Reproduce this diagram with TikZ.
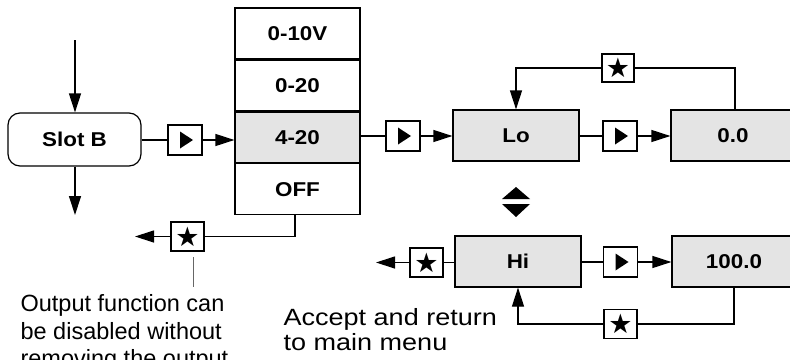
\documentclass[tikz,border=0pt]{standalone}
\usepackage{fontspec}
\setmainfont{Liberation Sans}
\newfontfamily\symfont{DejaVu Sans}
\usetikzlibrary{arrows.meta, positioning, calc}
\definecolor{boxgray}{RGB}{228,228,228}

\begin{document}
\begin{tikzpicture}[x=1pt, y=-1pt, line width=1.2pt, node distance=0pt,
  every node/.style={inner sep=0pt},
  labelfont/.style={font=\addfontfeature{FakeStretch=1.12}\fontsize{20}{20}\selectfont\bfseries},
  menubox/.style={draw, labelfont, fill=boxgray, minimum width=126pt, minimum height=51pt},
  optbox/.style={draw, labelfont, fill=white, minimum width=125pt, minimum height=50.75pt},
  keybox/.style={draw, fill=white, minimum width=34pt, minimum height=30pt,
    path picture={\fill[black] ($(path picture bounding box.center)+(-5,-8.5)$) -- ++(13,8.5) -- ++(-13,8.5) -- cycle;}},
  starbox/.style={draw, fill=white, minimum width=33pt, minimum height=29pt, font=\symfont\fontsize{27}{27}\selectfont},
  arr/.style={-{Triangle[length=19pt, width=12pt]}},
  note/.style={align=left, anchor=north west}]
\useasboundingbox (0,0) rectangle (790,359);

% input selection
\node[draw, labelfont, rounded corners=12pt, minimum width=133pt, minimum height=53pt] (slot) at (74.5,139.5) {Slot B};
\coordinate (slotin) at (75,40);
\coordinate (slotout) at (75,215);
\draw[arr] (slotin) -- (slotin |- slot.north);
\draw[arr] (slotout |- slot.south) -- (slotout);

% output type list
\node[optbox] (v10) at (297.5,33.4) {0-10V};
\node[optbox, below=of v10] (v020) {0-20};
\node[optbox, below=of v020, fill=boxgray] (v420) {4-20};
\node[optbox, below=of v420] (voff) {OFF};

\node[keybox] (key1) at (185,140) {};
\draw (slot.east |- key1) -- (key1.west);
\draw[arr] (key1.east) -- (v420.west |- key1);

% disable output
\node[starbox] (staroff) at (187.5,236.5) {★};
\coordinate (offout) at (135,236.5);
\draw ([xshift=-2.5pt]voff.south) |- (staroff.east);
\draw[arr] (staroff.west) -- (offout);
\coordinate (leadtop) at (193,257);
\coordinate (leadbot) at (193,287);
\draw[line width=0.6pt, black!60] (leadtop) -- (leadbot);
\node[note, font=\fontsize{23.5}{27.5}\selectfont] (offnote) at (20,294) {Output function can\\be disabled without\\removing the output};

% scaling low
\node[keybox] (key2) at (403,136) {};
\node[menubox] (lo) at (516,135.5) {Lo};
\node[keybox] (key3) at (620,136) {};
\node[menubox, minimum width=124pt] (zero) at (733,135.5) {0.0};
\draw (v420.east |- key2) -- (key2.west);
\draw[arr] (key2.east) -- (lo.west |- key2);
\draw (lo.east |- key3) -- (key3.west);
\draw[arr] (key3.east) -- (zero.west |- key3);
\node[starbox, minimum width=32pt, minimum height=28pt] (startop) at (618,68) {★};
\draw ([xshift=2pt]zero.north) |- (startop.east);
\draw[arr] (startop.west) -| (lo.north);

% up / down
\fill (502,199) -- (530,199) -- (516,187) -- cycle;
\fill (502,204) -- (530,204) -- (516,217) -- cycle;

% scaling high
\node[menubox] (hi) at (518,261.5) {Hi};
\node[starbox] (starhi) at (426.5,262.5) {★};
\coordinate (hiout) at (376,262.5);
\node[keybox] (key4) at (620.5,262) {};
\node[menubox, minimum width=124pt] (hundred) at (734,261.5) {100.0};
\draw (hi.west |- starhi) -- (starhi.east);
\draw[arr] (starhi.west) -- (hiout);
\draw (hi.east |- key4) -- (key4.west);
\draw[arr] (key4.east) -- (hundred.west |- key4);
\node[starbox] (starbot) at (620.5,324) {★};
\draw (hundred.south) |- (starbot.east);
\draw[arr] (starbot.west) -| (hi.south);
\node[note, font=\addfontfeature{FakeStretch=1.15}\fontsize{23.5}{24.5}\selectfont] (retnote) at (283,308) {Accept and return\\to main menu};
\end{tikzpicture}
\end{document}
